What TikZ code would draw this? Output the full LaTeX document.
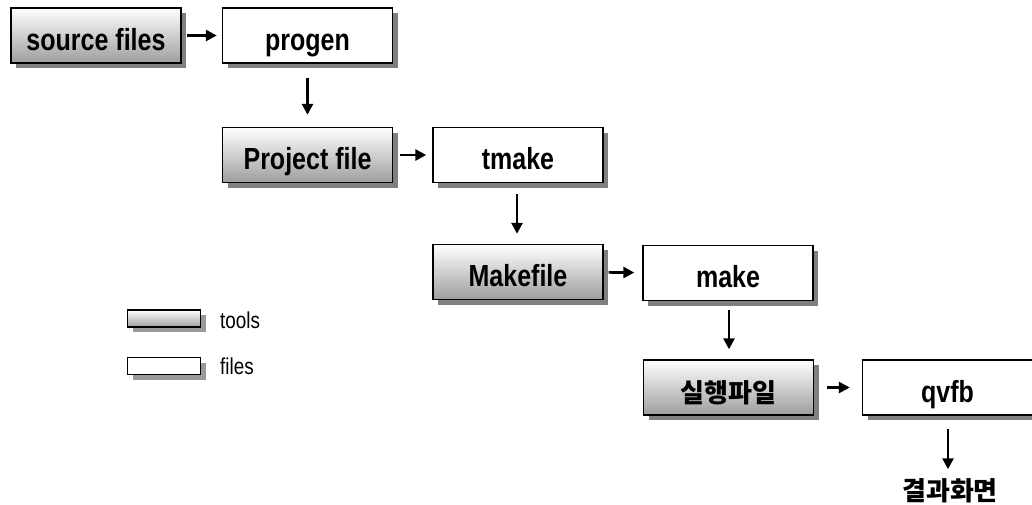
\documentclass[tikz,border=0pt]{standalone}
\usepackage{fontspec}
\setmainfont{Liberation Sans}
\newfontfamily\lblfont[FakeStretch=0.82]{Liberation Sans}
\newfontfamily\krfont{Noto Sans CJK KR}
\usetikzlibrary{arrows.meta,shadows}
\tikzset{
  box/.style={draw=black, line width=1.4pt, minimum width=170pt, minimum height=55pt,
    inner sep=0pt, text height=29pt, text depth=0pt,
    font=\fontsize{30.5}{34}\lblfont\bfseries,
    drop shadow={shadow xshift=5pt, shadow yshift=-5pt, fill=black!50, opacity=1}},
  toolbox/.style={box, top color=white, bottom color=black!38},
  filebox/.style={box, fill=white},
  krtext/.style={font=\fontsize{26}{30}\krfont\bfseries},
  flow/.style={line width=2.6pt, -{Triangle[length=11pt,width=11pt]}},
  legtool/.style={toolbox, minimum width=73pt, minimum height=17pt, text height=0pt,
    drop shadow={shadow xshift=5pt, shadow yshift=-5pt, fill=black!40, opacity=1}},
  legfile/.style={filebox, minimum width=73pt, minimum height=17pt, text height=0pt,
    drop shadow={shadow xshift=5pt, shadow yshift=-5pt, fill=black!40, opacity=1}},
  legtext/.style={anchor=base west, inner sep=0pt, font=\fontsize{23}{26}\lblfont},
}
\begin{document}
\begin{tikzpicture}[x=1pt,y=-1pt]
\useasboundingbox[fill=white] (0,0) rectangle (1032,504);
% pipeline stages
\node[toolbox] (src)    at (96,35.5)  {source files};
\node[filebox] (progen) at (307.5,35.5) {progen};
\node[toolbox] (proj)   at (307.5,155) {Project file};
\node[filebox] (tmake)  at (518,155) {tmake};
\node[toolbox] (mkf)    at (518,272) {Makefile};
\node[filebox] (make)   at (728,273) {make};
\node[toolbox, krtext] (exe) at (728.5,387.5) {실행파일};
\node[filebox] (qvfb)   at (947.5,387.5) {qvfb};
\node[krtext] (res) at (950,491) {결과화면};
% flow arrows
\draw[flow, shorten <=5pt, shorten >=5pt] (src) -- (progen);
\draw[flow, shorten <=14pt, shorten >=12pt] (progen.south) -- (progen.south |- proj.north);
\draw[flow, shorten <=7pt, shorten >=6pt] (proj) -- (tmake);
\draw[flow, shorten <=11pt, shorten >=10pt] ([xshift=-1pt]tmake.south) -- ([xshift=-1pt]tmake.south |- mkf.north);
\draw[flow, shorten <=5pt, shorten >=8pt] (mkf) -- (make);
\draw[flow, shorten <=9pt, shorten >=10pt] ([xshift=1pt]make.south) -- ([xshift=1pt]make.south |- exe.north);
\draw[flow, shorten <=13pt, shorten >=12pt] (exe) -- (qvfb);
\draw[flow, shorten <=13pt, shorten >=6pt] ([xshift=0.5pt]qvfb.south) -- ([xshift=0.5pt]qvfb.south |- res.north);
% legend
\node[legtool] (lt) at (164,318.5) {};
\node[legtext] (ltt) at (220,328) {tools};
\node[legfile] (lf) at (164,366) {};
\node[legtext] (lft) at (220,374) {files};
\end{tikzpicture}
\end{document}
